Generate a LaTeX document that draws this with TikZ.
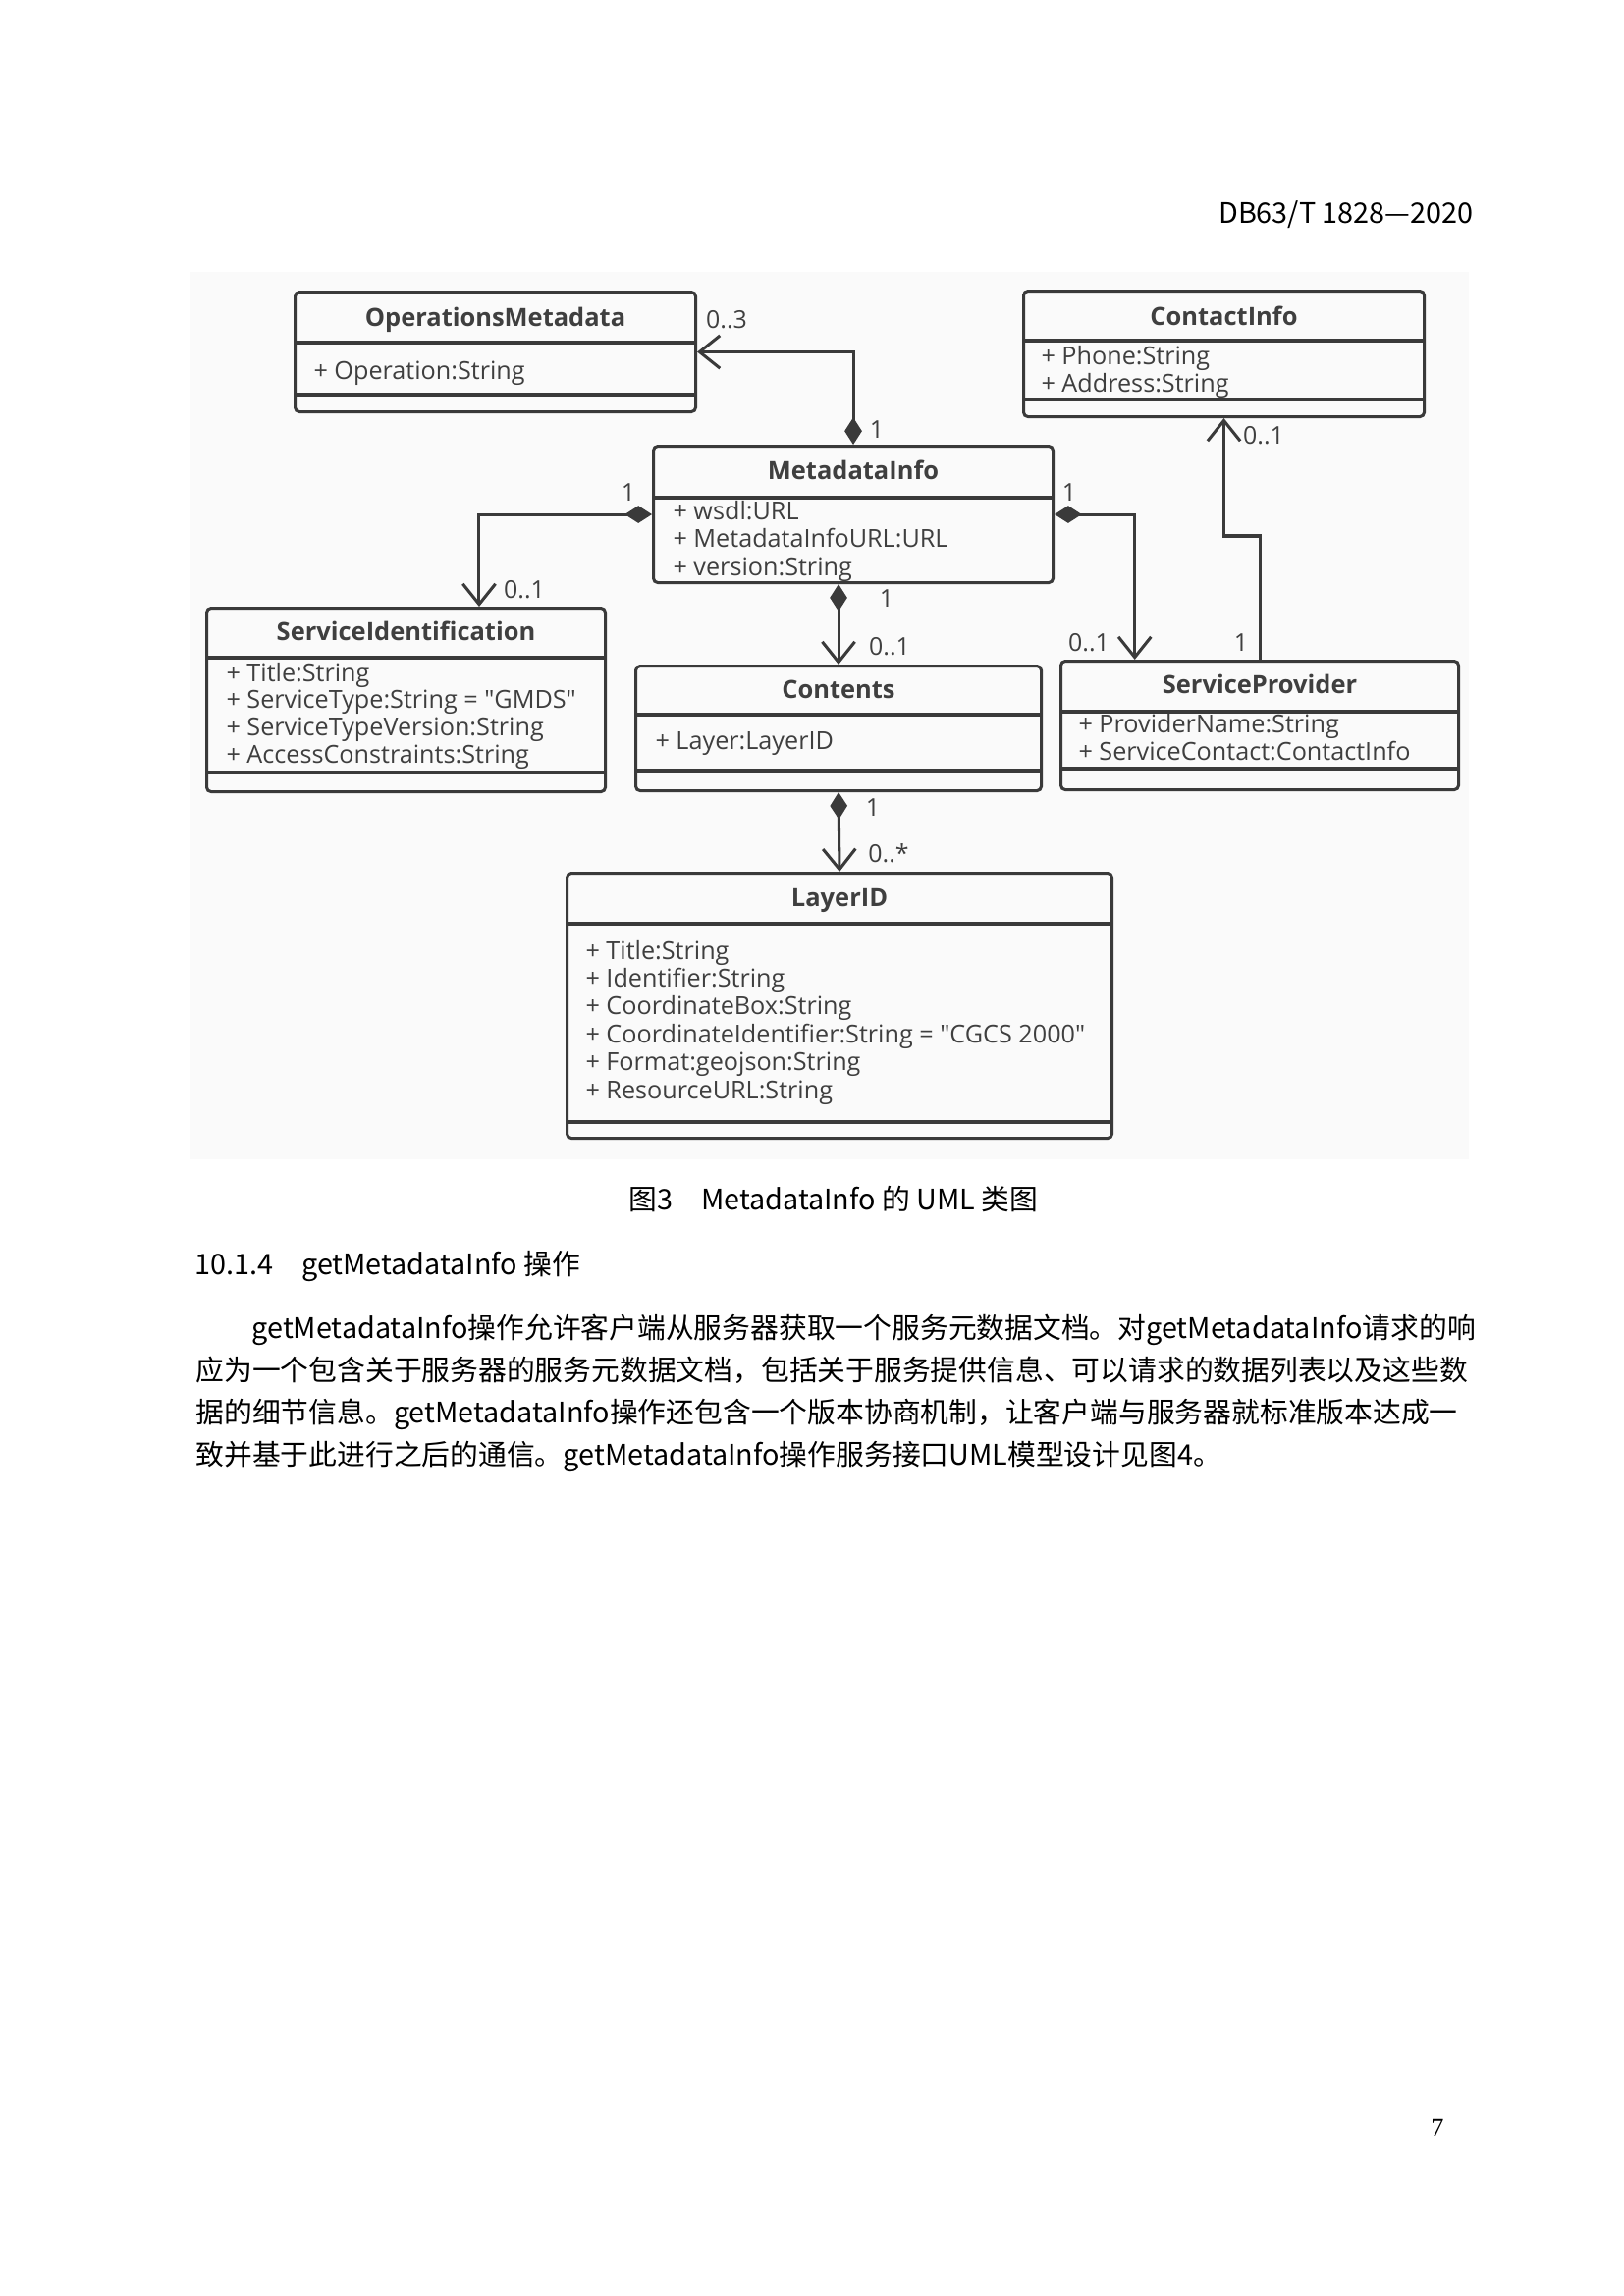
\documentclass[tikz,border=0pt]{standalone}
\usepackage{fontspec}
\newfontfamily\diafont{Open Sans}
\newfontfamily\cjkfont{Noto Sans CJK SC}
\newfontfamily\numfont{Liberation Serif}
\usetikzlibrary{arrows.meta,calc}
\XeTeXlinebreaklocale "zh"
\XeTeXlinebreakskip=0pt plus 2pt minus 1.6pt

\definecolor{umlline}{HTML}{3A3A3A}
\definecolor{umltext}{HTML}{3F3F3F}
\definecolor{figback}{HTML}{FAFAFA}

\begin{document}
\begin{tikzpicture}[x=0.3613pt, y=-0.3613pt,
    boxsize/.style 2 args={minimum width=#1*0.3613pt, minimum height=#2*0.3613pt},
    classbox/.style={draw=umlline, line width=1.1pt, rounded corners=1.6pt, inner sep=0pt, anchor=north west},
    sepline/.style={draw=umlline, line width=1.1pt},
    classname/.style={font=\diafont\bfseries\fontsize{9.2}{10}\selectfont, text=umltext, inner sep=0pt, text height=6.6pt, text depth=0pt},
    attr/.style={font=\diafont\fontsize{9.1}{10}\selectfont, text=umltext, anchor=west, inner sep=0pt, text height=6.6pt, text depth=0pt},
    mult/.style={font=\diafont\fontsize{9}{10}\selectfont, text=umltext, inner sep=0pt, text height=6.5pt, text depth=0pt},
    comp/.style={draw=umlline, line width=1.1pt, {Diamond[length=10pt,width=6.4pt]}-{Straight Barb[length=7.5pt,width=12pt]}},
    navi/.style={draw=umlline, line width=1.1pt, -{Straight Barb[length=7.5pt,width=12pt]}},
    pagetext/.style={font=\cjkfont\fontsize{10.4}{12}\selectfont, inner sep=0pt, text height=7.6pt, text depth=0pt}]
  \useasboundingbox (0,0) rectangle (1654,2339);
  \fill[white] (0,0) rectangle (1654,2339);
  \fill[figback] (194,277) rectangle (1496,1181);

  % header
  \node[pagetext, anchor=east] (header) at (1501,217) {DB63/T 1828—2020};

  % classes
  \node[classbox, boxsize={408}{122}] (opmeta) at (299,296) {};
  \draw[sepline] (opmeta.west |- 0,349) -- (opmeta.east |- 0,349)
                 (opmeta.west |- 0,402) -- (opmeta.east |- 0,402);
  \node[classname] (opmeta-t) at (opmeta.north |- 0,323) {OperationsMetadata};
  \node[attr] (opmeta-a) at (319,377) {+ Operation:String};

  \node[classbox, boxsize={408}{128}] (contact) at (1041,295) {};
  \draw[sepline] (contact.west |- 0,347) -- (contact.east |- 0,347)
                 (contact.west |- 0,407) -- (contact.east |- 0,407);
  \node[classname] (contact-t) at (contact.north |- 0,322) {ContactInfo};
  \foreach \a [count=\i from 0] in {+ Phone:String, + Address:String}
    \node[attr] (contact-a\i) at (1060,362+28*\i) {\a};

  \node[classbox, boxsize={407}{139}] (metainfo) at (664,453) {};
  \draw[sepline] (metainfo.west |- 0,507) -- (metainfo.east |- 0,507);
  \node[classname] (metainfo-t) at (metainfo.north |- 0,479) {MetadataInfo};
  \foreach \a [count=\i from 0] in {+ wsdl:URL, + MetadataInfoURL:URL, + version:String}
    \node[attr] (metainfo-a\i) at (685,520+28.5*\i) {\a};

  \node[classbox, boxsize={406}{187}] (servid) at (209,618) {};
  \draw[sepline] (servid.west |- 0,670) -- (servid.east |- 0,670)
                 (servid.west |- 0,787) -- (servid.east |- 0,787);
  \node[classname] (servid-t) at (servid.north |- 0,643) {ServiceIdentification};
  \foreach \a [count=\i from 0] in {+ Title:String, + ServiceType:String = "GMDS",
      + ServiceTypeVersion:String, + AccessConstraints:String}
    \node[attr] (servid-a\i) at (230,685+27.7*\i) {\a};

  \node[classbox, boxsize={413}{127}] (contents) at (646,677) {};
  \draw[sepline] (contents.west |- 0,728) -- (contents.east |- 0,728)
                 (contents.west |- 0,785) -- (contents.east |- 0,785);
  \node[classname] (contents-t) at (contents.north |- 0,702) {Contents};
  \node[attr] (contents-a) at (667,754) {+ Layer:LayerID};

  \node[classbox, boxsize={405}{131}] (servprov) at (1079,672) {};
  \draw[sepline] (servprov.west |- 0,725) -- (servprov.east |- 0,725)
                 (servprov.west |- 0,783) -- (servprov.east |- 0,783);
  \node[classname] (servprov-t) at (servprov.north |- 0,697) {ServiceProvider};
  \foreach \a [count=\i from 0] in {+ ProviderName:String, + ServiceContact:ContactInfo}
    \node[attr] (servprov-a\i) at (1098,737+28*\i) {\a};

  \node[classbox, boxsize={555}{270}] (layerid) at (576,888) {};
  \draw[sepline] (layerid.west |- 0,941) -- (layerid.east |- 0,941)
                 (layerid.west |- 0,1143) -- (layerid.east |- 0,1143);
  \node[classname] (layerid-t) at (layerid.north |- 0,914) {LayerID};
  \foreach \a [count=\i from 0] in {+ Title:String, + Identifier:String, + CoordinateBox:String,
      + CoordinateIdentifier:String = "CGCS 2000", + Format:geojson:String, + ResourceURL:String}
    \node[attr] (layerid-a\i) at (596,968+28.4*\i) {\a};

  % associations
  \draw[comp] (metainfo.north) |- (opmeta.east);
  \draw[comp] (metainfo.west) -| ($(servid.north west)!0.682!(servid.north east)$);
  \draw[comp] (metainfo.east) -| ($(servprov.north west)!0.188!(servprov.north east)$);
  \draw[comp] (contents.north |- metainfo.south) -- (contents.north);
  \draw[comp] (contents.south) -- (layerid.north);
  \draw[navi] (servprov.north) -- ++(0,-126) -| (contact.south);

  % multiplicities
  \node[mult] (m-opmeta) at (740,325) {0..3};
  \node[mult] (m-top) at (893,437) {1};
  \node[mult] (m-left) at (640,501) {1};
  \node[mult] (m-servid) at (534,600) {0..1};
  \node[mult] (m-right) at (1089,501) {1};
  \node[mult] (m-servprov) at (1109,654) {0..1};
  \node[mult] (m-bottom) at (903,609) {1};
  \node[mult] (m-contents) at (906,658) {0..1};
  \node[mult] (m-cbottom) at (889,822) {1};
  \node[mult] (m-layerid) at (905,869) {0..*};
  \node[mult] (m-spup) at (1264,654) {1};
  \node[mult] (m-contact) at (1287,443) {0..1};

  % caption, heading and text
  \node[pagetext] (caption) at (849,1222) {图3\hspace{1em}MetadataInfo 的 UML 类图};
  \node[pagetext, anchor=west] (heading) at (198,1288) {10.1.4\hspace{1em}getMetadataInfo 操作};
  \node[pagetext, anchor=west] (line1) at (256,1353)
    {\hbox to 449.4pt{getMetadataInfo操作允许客户端从服务器获取一个服务元数据文档。对getMetadataInfo请求的响}};
  \node[pagetext, anchor=west] (line2) at (199,1396)
    {\hbox to 470pt{应为一个包含关于服务器的服务元数据文档，包括关于服务提供信息、可以请求的数据列表以及这些数}};
  \node[pagetext, anchor=west] (line3) at (199,1439)
    {\hbox to 470pt{据的细节信息。getMetadataInfo操作还包含一个版本协商机制，让客户端与服务器就标准版本达成一}};
  \node[pagetext, anchor=west] (line4) at (199,1482)
    {致并基于此进行之后的通信。getMetadataInfo操作服务接口UML模型设计见图4。};

  % page number
  \node[font=\numfont\fontsize{9.5}{11}\selectfont, inner sep=0pt] (pagenum) at (1464,2168) {7};
\end{tikzpicture}
\end{document}
